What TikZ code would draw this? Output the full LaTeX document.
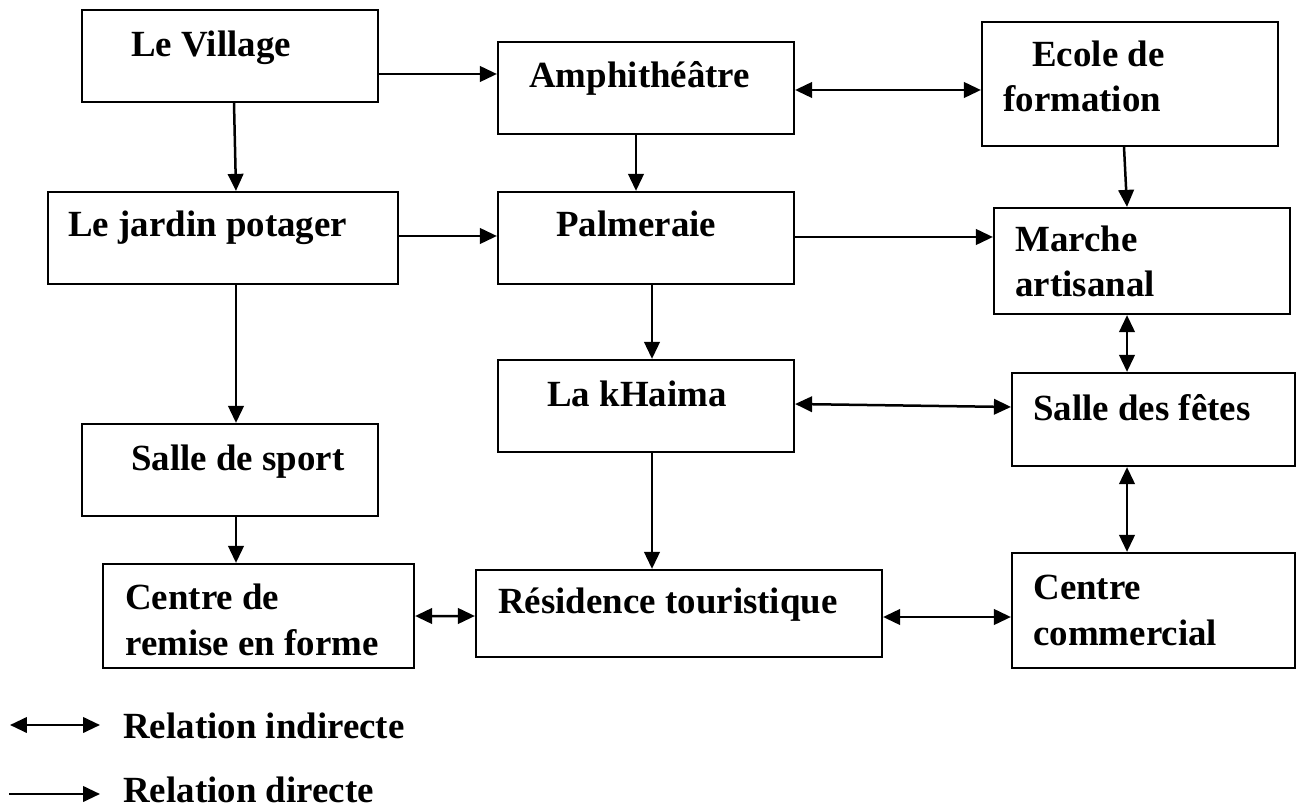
\documentclass[tikz,border=0pt]{standalone}
\usepackage{fontspec}
\setmainfont{Liberation Serif}
\usetikzlibrary{arrows.meta,calc}
\tikzset{
  bloc/.style={draw,line width=0.045cm,inner sep=0pt},
  etiq/.style={anchor=base west,inner sep=0pt,align=left,font=\fontsize{21}{26}\selectfont\bfseries},
  direct/.style={-{Triangle[length=0.34cm,width=0.31cm]},line width=0.05cm},
  indirect/.style={{Triangle[length=0.34cm,width=0.31cm]}-{Triangle[length=0.34cm,width=0.31cm]},line width=0.05cm}
}
\begin{document}
\begin{tikzpicture}[x=0.02cm,y=-0.02cm]
  \useasboundingbox (0,0) rectangle (1307,810);
  % blocs
  \node[bloc,minimum width=5.92cm,minimum height=1.84cm] (village) at (230,56) {};
  \node[bloc,minimum width=7.00cm,minimum height=1.84cm] (jardin) at (223,238) {};
  \node[bloc,minimum width=5.92cm,minimum height=1.84cm] (sport) at (230,470) {};
  \node[bloc,minimum width=6.22cm,minimum height=2.08cm] (remise) at (258.5,616) {};
  \node[bloc,minimum width=5.92cm,minimum height=1.84cm] (amphi) at (646,88) {};
  \node[bloc,minimum width=5.92cm,minimum height=1.84cm] (palm) at (646,238) {};
  \node[bloc,minimum width=5.92cm,minimum height=1.84cm] (khaima) at (646,406) {};
  \node[bloc,minimum width=8.12cm,minimum height=1.74cm] (resid) at (679,613.5) {};
  \node[bloc,minimum width=5.92cm,minimum height=2.48cm] (ecole) at (1130,84) {};
  \node[bloc,minimum width=5.92cm,minimum height=2.12cm] (marche) at (1142,261) {};
  \node[bloc,minimum width=5.66cm,minimum height=1.86cm] (fetes) at (1153.5,419.5) {};
  \node[bloc,minimum width=5.66cm,minimum height=2.30cm] (commercial) at (1153.5,610.5) {};
  % textes (base = derniere ligne)
  \node[etiq] (village-t) at (131,57) {Le Village};
  \node[etiq] (jardin-t) at (68,237) {Le jardin potager};
  \node[etiq] (sport-t) at (131,470) {Salle de sport};
  \node[etiq] (remise-t) at (125,655) {Centre de\\remise en forme};
  \node[etiq] (amphi-t) at (529,88) {Amphithéâtre};
  \node[etiq] (palm-t) at (556,237) {Palmeraie};
  \node[etiq] (khaima-t) at (547,406) {La kHaima};
  \node[etiq] (resid-t) at (498,613) {Résidence touristique};
  \node[etiq] (ecole-t) at (1003,112) {\hspace*{0.58cm}Ecole de\\formation};
  \node[etiq] (marche-t) at (1015,297) {Marche\\artisanal};
  \node[etiq] (fetes-t) at (1033,420) {Salle des fêtes};
  \node[etiq] (commercial-t) at (1033,645) {Centre\\commercial};
  % relations
  \draw[direct] ($(village.east)+(0,18)$) -- ($(amphi.west)+(0,-14)$);
  \draw[direct] ($(village.south)+(4,0)$) -- ($(jardin.north)+(13,0)$);
  \draw[indirect] ($(amphi.east)+(0,2)$) -- ($(ecole.west)+(0,6)$);
  \draw[direct] ($(amphi.south)+(-10,0)$) -- ($(palm.north)+(-10,0)$);
  \draw[direct] ($(ecole.south)+(-6,0)$) -- ($(marche.north)+(-15,0)$);
  \draw[direct] ($(jardin.east)+(0,-2)$) -- ($(palm.west)+(0,-2)$);
  \draw[direct] ($(palm.east)+(0,-1)$) -- ($(marche.west)+(0,-24)$);
  \draw[direct] ($(jardin.south)+(13,0)$) -- ($(sport.north)+(6,0)$);
  \draw[direct] ($(palm.south)+(6,0)$) -- ($(khaima.north)+(6,0)$);
  \draw[indirect] ($(marche.south)+(-15,0)$) -- ($(fetes.north)+(-26.5,0)$);
  \draw[indirect] ($(khaima.east)+(0,-2)$) -- ($(fetes.west)+(0,-12.5)$);
  \draw[direct] ($(sport.south)+(6,0)$) -- ($(remise.north)+(-22.5,0)$);
  \draw[direct] ($(khaima.south)+(6,0)$) -- ($(resid.north)+(-27,0)$);
  \draw[indirect] ($(fetes.south)+(-26.5,0)$) -- ($(commercial.north)+(-26.5,0)$);
  \draw[indirect] (remise.east) -- ($(resid.west)+(0,2.5)$);
  \draw[indirect] ($(resid.east)+(0,3.5)$) -- ($(commercial.west)+(0,6.5)$);
  % legende
  \coordinate (ind-a) at (10,725);
  \coordinate (ind-b) at (100,725);
  \coordinate (dir-a) at (9,794);
  \coordinate (dir-b) at (100,794);
  \draw[indirect] (ind-a) -- (ind-b);
  \draw[direct] (dir-a) -- (dir-b);
  \node[etiq] (ind-t) at (123,738) {Relation indirecte};
  \node[etiq] (dir-t) at (123,802) {Relation directe};
\end{tikzpicture}
\end{document}
